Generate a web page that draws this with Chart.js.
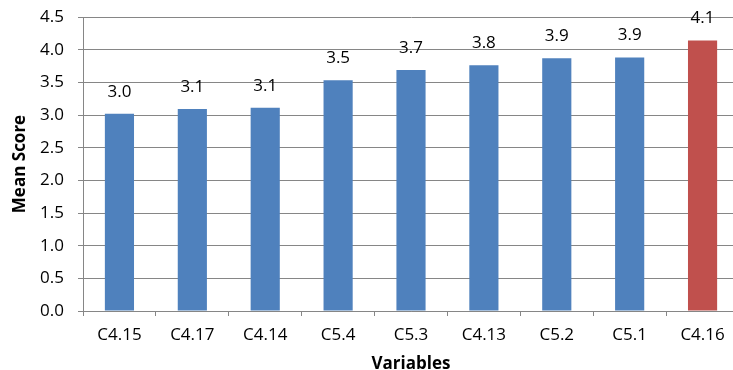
<!DOCTYPE html>
<html>
<head>
<meta charset="utf-8">
<script src="https://cdn.jsdelivr.net/npm/chart.js@4.4.0/dist/chart.umd.min.js"></script>
<style>
  html, body { margin: 0; padding: 0; overflow: hidden; background: #fff; }
  #wrap { width: 740px; height: 380px; position: relative; }
</style>
</head>
<body>
<div id="wrap"><canvas id="barChart"></canvas></div>
<script>
const variables = ['C4.15', 'C4.17', 'C4.14', 'C5.4', 'C5.3', 'C4.13', 'C5.2', 'C5.1', 'C4.16'];
const meanScores = [3.02, 3.09, 3.11, 3.53, 3.69, 3.76, 3.87, 3.88, 4.14];
const yTicks = [0, 0.5, 1.0, 1.5, 2.0, 2.5, 3.0, 3.5, 4.0, 4.5];

const blue = '#4F81BD';
const red = '#C0504D';
const gridGray = '#868686';
const fontFamily = "'Open Sans', sans-serif";

// last bar is highlighted
const barColors = variables.map((v, i) => i === variables.length - 1 ? red : blue);

// value labels above each bar
const valueLabels = {
  id: 'valueLabels',
  afterDatasetsDraw(chart) {
    const ctx = chart.ctx;
    const meta = chart.getDatasetMeta(0);
    ctx.save();
    ctx.font = '17px ' + fontFamily;
    ctx.fillStyle = '#000';
    ctx.textAlign = 'center';
    ctx.textBaseline = 'middle';
    meta.data.forEach((bar, i) => {
      ctx.fillText(meanScores[i].toFixed(1), bar.x, bar.y - 22);
    });
    ctx.restore();
  }
};

const ctx = document.getElementById('barChart').getContext('2d');
new Chart(ctx, {
  type: 'bar',
  data: {
    labels: variables,
    datasets: [{
      data: meanScores,
      backgroundColor: barColors,
      borderWidth: 0,
      barPercentage: 0.4,
      categoryPercentage: 1.0
    }]
  },
  options: {
    responsive: true,
    maintainAspectRatio: false,
    animation: false,
    layout: { padding: { top: 17, right: 1, left: 0, bottom: 0 } },
    plugins: {
      legend: { display: false },
      tooltip: { enabled: false }
    },
    scales: {
      x: {
        offset: true,
        grid: {
          display: true,
          offset: true,
          drawOnChartArea: false,
          drawTicks: true,
          tickLength: 5,
          color: gridGray
        },
        border: { color: gridGray },
        ticks: {
          color: '#000',
          padding: 9,
          font: { family: fontFamily, size: 17 }
        },
        title: {
          display: true,
          text: 'Variables',
          color: '#000',
          font: { family: fontFamily, size: 17, weight: 'bold' },
          padding: { top: 0, bottom: 6 }
        },
        afterFit(scale) {
          scale.height = 69;
          scale.paddingLeft = 0;
          scale.paddingRight = 0;
        }
      },
      y: {
        min: 0,
        max: 4.5,
        afterBuildTicks(scale) { scale.ticks = yTicks.map(v => ({ value: v })); },
        grid: {
          color: gridGray,
          drawTicks: true,
          tickLength: 5
        },
        border: { color: gridGray },
        ticks: {
          color: '#000',
          padding: 14,
          font: { family: fontFamily, size: 17 },
          callback: v => Number(v).toFixed(1)
        },
        title: {
          display: true,
          text: 'Mean Score',
          color: '#000',
          font: { family: fontFamily, size: 17, weight: 'bold' },
          padding: { top: 10, bottom: 0 }
        },
        afterFit(scale) {
          scale.width = 83;
          scale.paddingTop = 0;
          scale.paddingBottom = 0;
        }
      }
    }
  },
  plugins: [valueLabels]
});
</script>
</body>
</html>
